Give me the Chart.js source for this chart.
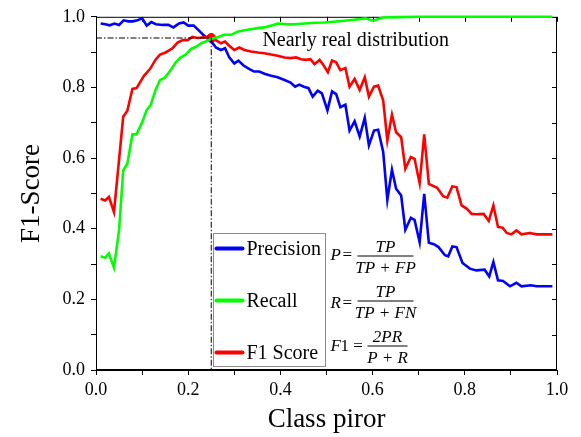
<!DOCTYPE html>
<html>
<head>
<meta charset="utf-8">
<script src="https://cdn.jsdelivr.net/npm/chart.js@4"></script>
<style>
  html, body { margin: 0; padding: 0; background: #fff; }
  canvas { display: block; }
</style>
</head>
<body>
<canvas id="f1Chart" width="581" height="437"></canvas>
<script>
// Precision / Recall / F1 against class prior
const precisionX = [0.01, 0.02, 0.03, 0.04, 0.05, 0.06, 0.07, 0.08, 0.09, 0.10, 0.11, 0.12, 0.13, 0.145, 0.157, 0.168, 0.18, 0.19, 0.20, 0.212, 0.224, 0.235, 0.246, 0.26, 0.271, 0.28, 0.289, 0.30, 0.309, 0.32, 0.333, 0.343, 0.354, 0.367, 0.38, 0.394, 0.409, 0.422, 0.432, 0.441, 0.451, 0.461, 0.47, 0.481, 0.49, 0.502, 0.512, 0.521, 0.53, 0.541, 0.55, 0.561, 0.572, 0.583, 0.592, 0.603, 0.612, 0.623, 0.632, 0.642, 0.651, 0.662, 0.671, 0.683, 0.691, 0.702, 0.712, 0.722, 0.733, 0.743, 0.757, 0.764, 0.773, 0.782, 0.795, 0.811, 0.825, 0.843, 0.853, 0.862, 0.872, 0.883, 0.898, 0.912, 0.923, 0.943, 0.956, 0.99];
const precisionY = [0.981, 0.979, 0.976, 0.981, 0.977, 0.990, 0.987, 0.987, 0.990, 0.996, 0.975, 0.985, 0.979, 0.977, 0.977, 0.970, 0.981, 0.984, 0.975, 0.975, 0.960, 0.946, 0.937, 0.913, 0.906, 0.911, 0.885, 0.868, 0.876, 0.862, 0.852, 0.845, 0.845, 0.838, 0.833, 0.829, 0.821, 0.814, 0.802, 0.808, 0.802, 0.798, 0.774, 0.791, 0.783, 0.735, 0.789, 0.781, 0.744, 0.751, 0.678, 0.704, 0.661, 0.714, 0.636, 0.678, 0.680, 0.617, 0.482, 0.567, 0.513, 0.494, 0.397, 0.431, 0.425, 0.362, 0.499, 0.360, 0.356, 0.348, 0.325, 0.322, 0.350, 0.348, 0.303, 0.287, 0.282, 0.284, 0.265, 0.306, 0.254, 0.252, 0.237, 0.247, 0.237, 0.240, 0.237, 0.237];

const recallX = [0.01, 0.02, 0.028, 0.039, 0.05, 0.059, 0.068, 0.079, 0.088, 0.10, 0.11, 0.119, 0.13, 0.139, 0.149, 0.161, 0.173, 0.184, 0.195, 0.206, 0.217, 0.228, 0.238, 0.249, 0.264, 0.278, 0.293, 0.307, 0.322, 0.336, 0.351, 0.365, 0.38, 0.394, 0.416, 0.431, 0.452, 0.474, 0.496, 0.539, 0.575, 0.584, 0.601, 0.623, 0.656, 0.70, 0.99];
const recallY = [0.322, 0.318, 0.330, 0.290, 0.395, 0.565, 0.584, 0.667, 0.667, 0.701, 0.736, 0.751, 0.796, 0.821, 0.827, 0.847, 0.871, 0.885, 0.893, 0.909, 0.915, 0.925, 0.930, 0.937, 0.942, 0.949, 0.949, 0.958, 0.962, 0.965, 0.968, 0.970, 0.975, 0.981, 0.979, 0.979, 0.981, 0.983, 0.984, 0.989, 0.994, 0.996, 0.989, 0.998, 0.999, 1.0, 1.0];

const f1X = [0.01, 0.02, 0.028, 0.039, 0.059, 0.068, 0.079, 0.088, 0.104, 0.117, 0.13, 0.139, 0.151, 0.166, 0.177, 0.188, 0.199, 0.209, 0.22, 0.235, 0.25, 0.26, 0.271, 0.28, 0.289, 0.30, 0.311, 0.322, 0.336, 0.351, 0.365, 0.38, 0.394, 0.409, 0.422, 0.434, 0.445, 0.456, 0.465, 0.474, 0.485, 0.492, 0.503, 0.512, 0.521, 0.53, 0.541, 0.55, 0.561, 0.572, 0.583, 0.592, 0.603, 0.612, 0.623, 0.632, 0.642, 0.651, 0.662, 0.671, 0.683, 0.691, 0.702, 0.712, 0.722, 0.74, 0.753, 0.762, 0.773, 0.782, 0.793, 0.804, 0.815, 0.825, 0.841, 0.852, 0.862, 0.872, 0.882, 0.891, 0.901, 0.912, 0.923, 0.941, 0.956, 0.99];
const f1Y = [0.485, 0.480, 0.490, 0.447, 0.717, 0.734, 0.796, 0.798, 0.833, 0.852, 0.880, 0.893, 0.899, 0.911, 0.927, 0.934, 0.934, 0.943, 0.940, 0.942, 0.940, 0.934, 0.925, 0.930, 0.918, 0.906, 0.913, 0.906, 0.902, 0.899, 0.897, 0.893, 0.890, 0.885, 0.883, 0.885, 0.880, 0.878, 0.880, 0.866, 0.878, 0.866, 0.843, 0.876, 0.871, 0.849, 0.855, 0.802, 0.824, 0.793, 0.829, 0.774, 0.802, 0.805, 0.763, 0.650, 0.723, 0.673, 0.659, 0.570, 0.603, 0.598, 0.529, 0.667, 0.527, 0.516, 0.492, 0.488, 0.520, 0.518, 0.466, 0.457, 0.442, 0.441, 0.442, 0.422, 0.466, 0.405, 0.403, 0.388, 0.384, 0.395, 0.384, 0.388, 0.384, 0.384];

// dash-dot guide to the "nearly real distribution" operating point
const guideX = [0, 0.25, 0.25];
const guideY = [0.94, 0.94, 0];
const markerX = [0.25];
const markerY = [0.94];

const tickValues = [0, 0.1, 0.2, 0.3, 0.4, 0.5, 0.6, 0.7, 0.8, 0.9, 1.0];
const tickLabels = ['0.0', '', '0.2', '', '0.4', '', '0.6', '', '0.8', '', '1.0'];

const SERIF = '"Liberation Serif", "Times New Roman", serif';

function toPoints(xs, ys) {
    return xs.map((x, i) => ({ x: x, y: ys[i] }));
}

// frame with inward ticks on top/right edges
const framePlugin = {
    id: 'frame',
    beforeDatasetsDraw(chart) {
        const { ctx, chartArea: a, scales: { x, y } } = chart;
        ctx.save();
        ctx.strokeStyle = '#000';
        ctx.lineWidth = 1;
        ctx.strokeRect(a.left + 0.5, a.top + 0.5, a.width - 1, a.height - 1);
        ctx.beginPath();
        tickValues.forEach(v => {
            const px = Math.round(x.getPixelForValue(v)) + 0.5;
            ctx.moveTo(px, a.top);
            ctx.lineTo(px, a.top + 5);
            const py = Math.round(y.getPixelForValue(v)) + 0.5;
            ctx.moveTo(a.right, py);
            ctx.lineTo(a.right - 5, py);
        });
        ctx.stroke();
        ctx.restore();
    }
};

function drawFraction(ctx, num, den, cx, barY, halfW) {
    ctx.beginPath();
    ctx.moveTo(cx - halfW, barY + 0.5);
    ctx.lineTo(cx + halfW, barY + 0.5);
    ctx.stroke();
    ctx.textAlign = 'center';
    ctx.fillText(num, cx, barY - 4);
    ctx.fillText(den, cx, barY + 17);
}

// legend box, formulas and the annotation text
const notesPlugin = {
    id: 'notes',
    afterDatasetsDraw(chart) {
        const { ctx, scales: { x, y } } = chart;
        ctx.save();

        ctx.fillStyle = '#000';
        ctx.font = '20px ' + SERIF;
        ctx.textBaseline = 'middle';
        ctx.textAlign = 'left';
        ctx.fillText('Nearly real distribution', x.getPixelForValue(0.361), y.getPixelForValue(0.932));

        const left = Math.round(x.getPixelForValue(0.254)) + 0.5;
        const right = Math.round(x.getPixelForValue(0.497)) + 0.5;
        const top = Math.round(y.getPixelForValue(0.388)) + 0.5;
        const bottom = Math.round(y.getPixelForValue(0.011)) + 0.5;
        ctx.fillStyle = '#fff';
        ctx.fillRect(left, top, right - left, bottom - top);
        ctx.strokeStyle = '#8c8c8c';
        ctx.lineWidth = 1;
        ctx.strokeRect(left, top, right - left, bottom - top);

        const order = ['Precision', 'Recall', 'F1 Score'];
        order.forEach((name, i) => {
            const ds = chart.data.datasets.find(d => d.label === name);
            const ey = top + 15 + i * 52;
            ctx.strokeStyle = ds.borderColor;
            ctx.lineWidth = 4;
            ctx.lineCap = 'round';
            ctx.beginPath();
            ctx.moveTo(left + 3, ey);
            ctx.lineTo(left + 29, ey);
            ctx.stroke();
            ctx.fillStyle = '#000';
            ctx.font = '20px ' + SERIF;
            ctx.textAlign = 'left';
            ctx.textBaseline = 'middle';
            ctx.fillText(name, left + 33, ey + 1);
        });

        // formulas to the right of the legend
        const fx = right + 5;
        ctx.fillStyle = '#000';
        ctx.strokeStyle = '#000';
        ctx.lineWidth = 1;
        ctx.lineCap = 'butt';
        ctx.textBaseline = 'alphabetic';
        const italic = 'italic 17px ' + SERIF;
        const roman = '17px ' + SERIF;

        ctx.font = italic;
        ctx.textAlign = 'left';
        ctx.fillText('P', fx, top + 26);
        ctx.font = roman;
        ctx.fillText('=', fx + 12, top + 26);
        ctx.font = italic;
        drawFraction(ctx, 'TP', 'TP + FP', fx + 55, top + 22, 28);

        ctx.textAlign = 'left';
        ctx.fillText('R', fx, top + 74);
        ctx.font = roman;
        ctx.fillText('=', fx + 12, top + 74);
        ctx.font = italic;
        drawFraction(ctx, 'TP', 'TP + FN', fx + 55, top + 67, 28);

        ctx.textAlign = 'left';
        ctx.fillText('F', fx, top + 117);
        ctx.font = roman;
        ctx.fillText('1 =', fx + 10, top + 117);
        ctx.font = italic;
        drawFraction(ctx, '2PR', 'P + R', fx + 57, top + 112, 20);

        ctx.restore();
    }
};

const tickFont = { family: SERIF, size: 18 };
const titleFont = { family: SERIF, size: 27 };

new Chart(document.getElementById('f1Chart'), {
    type: 'line',
    data: {
        datasets: [
            {
                label: 'guide',
                data: toPoints(guideX, guideY),
                borderColor: '#000',
                borderWidth: 1,
                borderDash: [6, 2, 1.5, 2],
                pointRadius: 0,
                fill: false
            },
            {
                label: 'Recall',
                data: toPoints(recallX, recallY),
                borderColor: '#00ff00',
                borderWidth: 2.6,
                pointRadius: 0,
                fill: false,
                clip: 3
            },
            {
                label: 'F1 Score',
                data: toPoints(f1X, f1Y),
                borderColor: '#ff0000',
                borderWidth: 2.6,
                pointRadius: 0,
                fill: false
            },
            {
                label: 'Precision',
                data: toPoints(precisionX, precisionY),
                borderColor: '#0000ff',
                borderWidth: 2.6,
                pointRadius: 0,
                fill: false
            },
            {
                label: 'point',
                type: 'scatter',
                data: toPoints(markerX, markerY),
                pointRadius: 4.5,
                backgroundColor: '#ff0000',
                borderColor: '#ff0000'
            }
        ]
    },
    options: {
        responsive: false,
        animation: false,
        layout: { padding: { top: 16, right: 24, left: 0, bottom: 0 } },
        plugins: {
            legend: { display: false },
            tooltip: { enabled: false }
        },
        scales: {
            x: {
                type: 'linear',
                min: 0,
                max: 1,
                afterFit: s => { s.height = 67; },
                afterBuildTicks: s => { s.ticks = tickValues.map(v => ({ value: v })); },
                ticks: {
                    autoSkip: false,
                    maxRotation: 0,
                    padding: 4,
                    color: '#000',
                    font: tickFont,
                    callback: (v, i) => tickLabels[i]
                },
                grid: { drawOnChartArea: false, tickLength: 5, color: '#000' },
                border: { color: '#000' },
                title: { display: true, text: 'Class piror', color: '#000', font: titleFont, padding: { top: 0, bottom: 1 } }
            },
            y: {
                type: 'linear',
                min: 0,
                max: 1,
                afterFit: s => { s.width = 96; },
                afterBuildTicks: s => { s.ticks = tickValues.map(v => ({ value: v })); },
                ticks: {
                    autoSkip: false,
                    padding: 6,
                    color: '#000',
                    font: tickFont,
                    callback: (v, i) => tickLabels[i]
                },
                grid: { drawOnChartArea: false, tickLength: 5, color: '#000' },
                border: { color: '#000' },
                title: { display: true, text: 'F1-Score', color: '#000', font: titleFont, padding: { top: 16, bottom: 0 } }
            }
        }
    },
    plugins: [framePlugin, notesPlugin]
});
</script>
</body>
</html>
